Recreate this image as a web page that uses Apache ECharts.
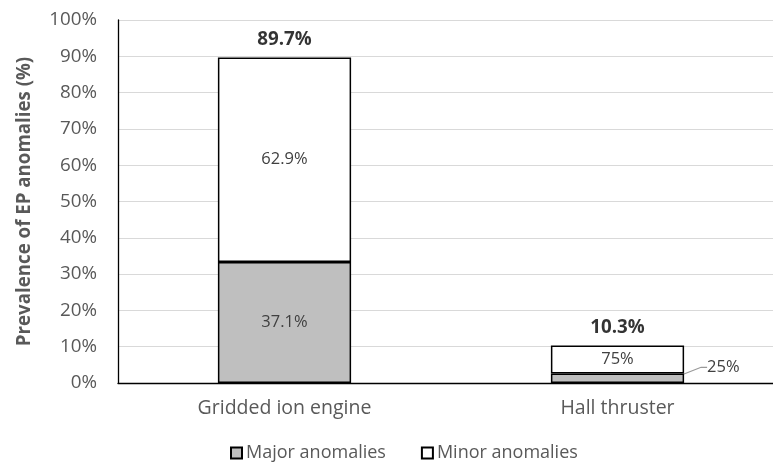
<!DOCTYPE html>
<html>
<head>
<meta charset="utf-8">
<script src="https://cdn.jsdelivr.net/npm/echarts@6/dist/echarts.min.js"></script>
<style>html,body{margin:0;padding:0;background:#fff}#c{width:773px;height:463px}</style>
</head>
<body>
<div id="c"></div>
<script>
const categories = ['Gridded ion engine', 'Hall thruster'];
const majorValues = [33.3, 2.6];
const minorValues = [56.4, 7.7];
const majorShare = ['37.1%', '25%'];
const minorShare = ['62.9%', '75%'];
const totalLabels = ['89.7%', '10.3%'];
const yTicks = [0, 10, 20, 30, 40, 50, 60, 70, 80, 90, 100];

const FONT = '"Open Sans"';
const chart = echarts.init(document.getElementById('c'));
chart.setOption({
  animation: false,
  textStyle: { fontFamily: FONT },
  grid: { left: 118, top: 20, right: -11, bottom: 80, containLabel: false, outerBoundsMode: 'none' },
  legend: {
    data: ['Major anomalies', 'Minor anomalies'],
    bottom: -4,
    left: 225,
    icon: 'rect',
    itemWidth: 11,
    itemHeight: 11,
    itemGap: 35,
    textStyle: { color: '#595959', fontSize: 18, fontFamily: FONT, padding: [0, 0, 0, -1] },
    selectedMode: false
  },
  xAxis: {
    type: 'category',
    data: categories,
    axisLine: { lineStyle: { color: '#000', width: 1.3 } },
    axisTick: { show: false },
    axisLabel: { color: '#595959', fontSize: 19.5, margin: 15, fontFamily: FONT }
  },
  yAxis: {
    type: 'value',
    min: yTicks[0],
    max: yTicks[yTicks.length - 1],
    interval: 10,
    name: 'Prevalence of EP anomalies (%)',
    nameLocation: 'middle',
    nameGap: 84,
    nameTextStyle: { color: '#595959', fontSize: 18.7, fontWeight: 'bold', fontFamily: FONT },
    axisLine: { show: true, lineStyle: { color: '#000', width: 1.3 } },
    axisTick: { show: false },
    splitLine: { lineStyle: { color: '#d9d9d9', width: 1 } },
    axisLabel: { color: '#595959', fontSize: 18.8, margin: 21, formatter: v => v + '%', fontFamily: FONT }
  },
  series: [
    {
      name: 'Major anomalies',
      type: 'bar',
      stack: 'a',
      barWidth: '40%',
      data: majorValues.map((v, i) => i === 1 ? {
        value: v,
        label: { position: 'right', distance: 2 }
      } : v),
      itemStyle: { color: '#bfbfbf', borderColor: '#000', borderWidth: 1.5 },
      label: {
        show: true,
        position: 'inside',
        color: '#404040',
        fontSize: 16.5,
        fontFamily: FONT,
        formatter: p => majorShare[p.dataIndex]
      },
      labelLayout: p => p.dataIndex === 1 ? { dx: 21, dy: -11 } : {},
      labelLine: { show: true, length2: 6, lineStyle: { color: '#999999', width: 1.2 } }
    },
    {
      name: 'Minor anomalies',
      type: 'bar',
      stack: 'a',
      barWidth: '40%',
      data: minorValues,
      itemStyle: { color: '#ffffff', borderColor: '#000', borderWidth: 1.5 },
      label: {
        show: true,
        position: 'inside',
        color: '#404040',
        fontSize: 16.5,
        fontFamily: FONT,
        formatter: p => minorShare[p.dataIndex]
      }
    },
    {
      name: 'Total',
      type: 'scatter',
      symbolSize: 0,
      data: majorValues.map((v, i) => v + minorValues[i]),
      label: {
        show: true,
        position: 'top',
        distance: 8,
        color: '#000',
        fontSize: 18.8,
        fontWeight: 'bold',
        fontFamily: FONT,
        formatter: p => totalLabels[p.dataIndex]
      },
      silent: true
    }
  ]
});
</script>
</body>
</html>
